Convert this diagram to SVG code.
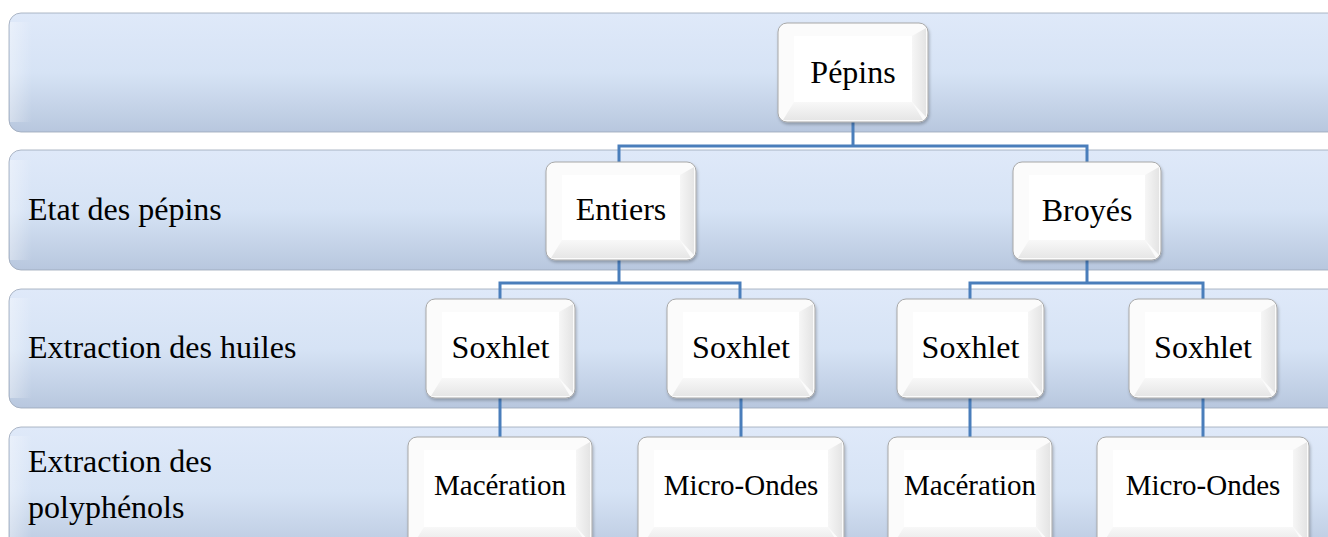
<svg xmlns="http://www.w3.org/2000/svg" width="1328" height="537" viewBox="0 0 1328 537">
<defs>
<linearGradient id="bandGrad" x1="0" y1="0" x2="0" y2="1">
<stop offset="0" stop-color="#dfe9f9"/>
<stop offset="0.5" stop-color="#d6e3f5"/>
<stop offset="1" stop-color="#b8c7de"/>
</linearGradient>
<linearGradient id="bandLeft" x1="0" y1="0" x2="1" y2="0">
<stop offset="0" stop-color="#ffffff" stop-opacity="0.35"/>
<stop offset="1" stop-color="#ffffff" stop-opacity="0"/>
</linearGradient>
<linearGradient id="bevRGrad" x1="0" y1="0" x2="1" y2="0">
<stop offset="0" stop-color="#f6f6f6"/>
<stop offset="1" stop-color="#e4e4e4"/>
</linearGradient>
<linearGradient id="bevBGrad" x1="0" y1="0" x2="0" y2="1">
<stop offset="0" stop-color="#f8f8f8"/>
<stop offset="1" stop-color="#e6e6e6"/>
</linearGradient>
<filter id="shadow" x="-10%" y="-10%" width="130%" height="130%">
<feDropShadow dx="1" dy="2" stdDeviation="1.5" flood-color="#000" flood-opacity="0.25"/>
</filter>
</defs>
<style>
.band{fill:url(#bandGrad);stroke:#9aa6b7;stroke-width:0.8}
.bandEdge{fill:url(#bandLeft)}
.outer{fill:#fbfbfb;stroke:#a8a8a8;stroke-width:1;filter:url(#shadow)}
.bevR{fill:url(#bevRGrad)}
.bevB{fill:url(#bevBGrad)}
.face{fill:#ffffff}
.lbl{font-family:"Liberation Serif","Times New Roman",serif;font-size:32px;fill:#000}
.big{font-family:"Liberation Serif","Times New Roman",serif;font-size:32px;fill:#000;text-anchor:middle}
.small{font-family:"Liberation Serif","Times New Roman",serif;font-size:29px;fill:#000;text-anchor:middle}
.conn{fill:none;stroke:#4a7ebb;stroke-width:3}
</style>

<g id="bands">
<g id="band1"><rect class="band" x="9" y="13" width="1335" height="119" rx="12"/><rect class="bandEdge" x="10" y="22" width="22" height="100"/></g>
<g id="band2"><rect class="band" x="9" y="150" width="1335" height="120" rx="12"/><rect class="bandEdge" x="10" y="160" width="22" height="100"/>
<text class="lbl" x="28" y="220">Etat des pépins</text></g>
<g id="band3"><rect class="band" x="9" y="289" width="1335" height="119" rx="12"/><rect class="bandEdge" x="10" y="298" width="22" height="100"/>
<text class="lbl" x="28" y="358">Extraction des huiles</text></g>
<g id="band4"><rect class="band" x="9" y="427" width="1335" height="130" rx="12"/><rect class="bandEdge" x="10" y="436" width="22" height="110"/>
<text class="lbl" x="28" y="472">Extraction des</text>
<text class="lbl" x="28" y="518">polyphénols</text></g>
</g>

<g id="connectors">
<path class="conn" d="M853 122 V146 M619 162 V146 H1087 V162"/>
<path class="conn" d="M619 260 V283 M500 299 V283 H740 V299"/>
<path class="conn" d="M1087 260 V283 M970 299 V283 H1203 V299"/>
<path class="conn" d="M500 398 V437 M741 398 V437 M970 398 V437 M1203 398 V437"/>
</g>

<g id="node-pepins">
<rect class="outer" x="778" y="23" width="150" height="99" rx="9"/>
<polygon class="bevR" points="912,36 912,102 926,117 926,28"/>
<polygon class="bevB" points="794,102 912,102 923,120 783,120"/>
<rect class="face" x="794" y="36" width="118" height="66"/>
<text class="big" x="853" y="83">Pépins</text>
</g>

<g id="node-entiers">
<rect class="outer" x="546" y="162" width="150" height="98" rx="9"/>
<polygon class="bevR" points="680,175 680,240 694,255 694,167"/>
<polygon class="bevB" points="562,240 680,240 691,258 551,258"/>
<rect class="face" x="562" y="175" width="118" height="65"/>
<text class="big" x="621" y="220">Entiers</text>
</g>

<g id="node-broyes">
<rect class="outer" x="1013" y="162" width="148" height="98" rx="9"/>
<polygon class="bevR" points="1145,175 1145,240 1159,255 1159,167"/>
<polygon class="bevB" points="1029,240 1145,240 1156,258 1018,258"/>
<rect class="face" x="1029" y="175" width="116" height="65"/>
<text class="big" x="1087" y="221">Broyés</text>
</g>

<g id="node-soxhlet1">
<rect class="outer" x="426" y="299" width="149" height="99" rx="9"/>
<polygon class="bevR" points="559,312 559,378 573,393 573,304"/>
<polygon class="bevB" points="442,378 559,378 570,396 431,396"/>
<rect class="face" x="442" y="312" width="117" height="66"/>
<text class="big" x="500.5" y="358">Soxhlet</text>
</g>

<g id="node-soxhlet2">
<rect class="outer" x="667" y="299" width="148" height="99" rx="9"/>
<polygon class="bevR" points="799,312 799,378 813,393 813,304"/>
<polygon class="bevB" points="683,378 799,378 810,396 672,396"/>
<rect class="face" x="683" y="312" width="116" height="66"/>
<text class="big" x="741" y="358">Soxhlet</text>
</g>

<g id="node-soxhlet3">
<rect class="outer" x="897" y="299" width="147" height="99" rx="9"/>
<polygon class="bevR" points="1028,312 1028,378 1042,393 1042,304"/>
<polygon class="bevB" points="913,378 1028,378 1039,396 902,396"/>
<rect class="face" x="913" y="312" width="115" height="66"/>
<text class="big" x="970.5" y="358">Soxhlet</text>
</g>

<g id="node-soxhlet4">
<rect class="outer" x="1129" y="299" width="148" height="99" rx="9"/>
<polygon class="bevR" points="1261,312 1261,378 1275,393 1275,304"/>
<polygon class="bevB" points="1145,378 1261,378 1272,396 1134,396"/>
<rect class="face" x="1145" y="312" width="116" height="66"/>
<text class="big" x="1203" y="358">Soxhlet</text>
</g>

<g id="node-maceration1">
<rect class="outer" x="408" y="437" width="184" height="110" rx="9"/>
<polygon class="bevR" points="576,450 576,527 590,542 590,442"/>
<polygon class="bevB" points="424,527 576,527 587,545 413,545"/>
<rect class="face" x="424" y="450" width="152" height="77"/>
<text class="small" x="500" y="495">Macération</text>
</g>

<g id="node-microondes1">
<rect class="outer" x="638" y="437" width="206" height="110" rx="9"/>
<polygon class="bevR" points="828,450 828,527 842,542 842,442"/>
<polygon class="bevB" points="654,527 828,527 839,545 643,545"/>
<rect class="face" x="654" y="450" width="174" height="77"/>
<text class="small" x="741" y="495">Micro-Ondes</text>
</g>

<g id="node-maceration2">
<rect class="outer" x="888" y="437" width="164" height="110" rx="9"/>
<polygon class="bevR" points="1036,450 1036,527 1050,542 1050,442"/>
<polygon class="bevB" points="904,527 1036,527 1047,545 893,545"/>
<rect class="face" x="904" y="450" width="132" height="77"/>
<text class="small" x="970" y="495">Macération</text>
</g>

<g id="node-microondes2">
<rect class="outer" x="1097" y="437" width="212" height="110" rx="9"/>
<polygon class="bevR" points="1293,450 1293,527 1307,542 1307,442"/>
<polygon class="bevB" points="1113,527 1293,527 1304,545 1102,545"/>
<rect class="face" x="1113" y="450" width="180" height="77"/>
<text class="small" x="1203" y="495">Micro-Ondes</text>
</g>
</svg>
